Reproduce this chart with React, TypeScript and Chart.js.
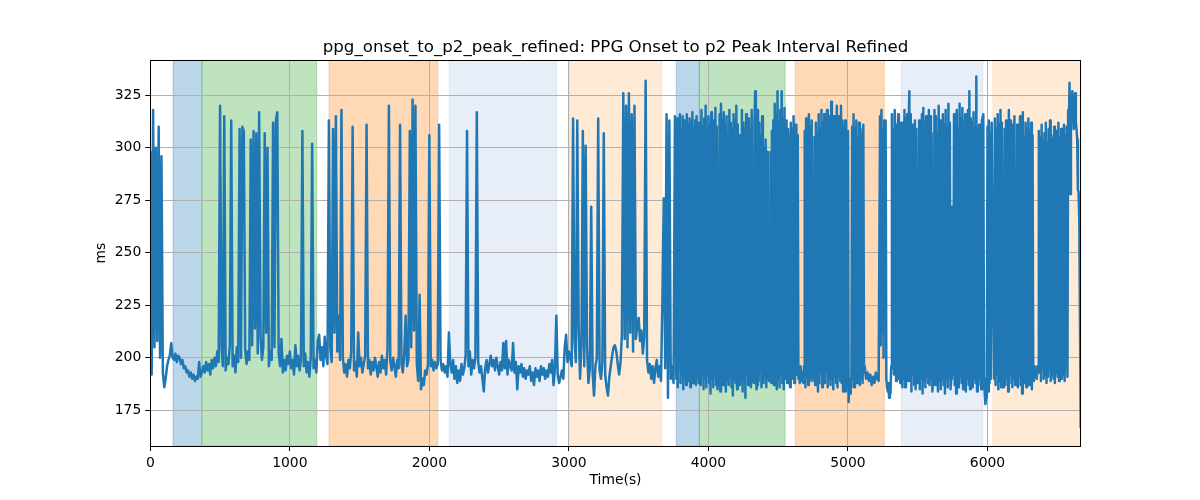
import { useEffect, useRef } from 'react';
import { Chart, registerables } from 'chart.js';

Chart.register(...registerables);

// interval values (ms), one array per stretch of the recording
const vals0000 = [298, 192, 318, 205, 300, 208, 310, 200, 296, 193, 186, 190, 196, 199, 201, 207, 200];
const vals0170 = [199, 202, 198, 201, 200, 197, 199, 195, 196, 193, 194, 191, 193, 190, 192, 189, 191, 190, 198, 191, 193];
const vals0380 = [
  196, 193, 198, 194, 197, 192, 199, 195, 200, 196, 203, 198, 320, 205, 196, 315, 194, 200, 197, 206,
  313, 196, 201, 193, 205, 198, 309, 200, 310, 308, 204, 197, 203, 199, 304, 206, 308, 214, 307, 202,
  317, 210, 199, 205, 307, 212, 300, 196, 203, 199, 312, 205, 313, 317, 202, 196, 209, 193, 199, 194,
  201, 197, 203, 195, 199, 192, 206, 196, 201, 194, 199, 308, 196, 202, 193, 198, 191, 200, 302, 195,
  199, 193,
];
const vals1200 = [208, 211, 199, 205, 196, 210, 201, 197, 313];
const vals1290 = [
  205, 198, 309, 212, 315, 203, 220, 199, 318, 200, 193, 197, 191, 199, 195, 203, 310, 194, 198, 191,
  212, 196, 200, 193, 197, 201, 311, 195, 199, 192, 198, 194, 200, 196, 191, 198, 193, 201, 195, 199,
  192, 204, 320, 198, 194, 200, 196, 191, 199, 195, 311, 197, 193, 202, 220, 196, 199, 308, 205, 323,
  213, 320, 197, 189, 230, 185, 190, 187, 194, 192, 197, 306, 196, 199, 194, 198, 195, 197,
];
const vals2070 = [311, 199, 194, 197, 193, 196, 191, 212];
const vals2150 = [
  197, 193, 199, 190, 196, 188, 194, 189, 197, 192, 195, 201, 308, 196, 203, 192, 199, 195, 200, 317,
  198, 193, 196, 190, 184, 195, 199, 193, 197, 201, 196, 199, 194, 200, 196, 192, 198, 194, 207, 195,
  208, 192, 199, 196, 194, 207, 193, 198, 185, 196, 193, 197, 191, 195, 190, 194, 192, 196, 189, 193,
  187, 195, 191, 194, 189, 196, 192, 195, 190, 194, 191, 197, 193, 199, 187, 195, 220,
];
const vals2920 = [192, 188, 191, 194, 190, 205, 211, 198, 203];
const vals3010 = [
  200, 196, 314, 208, 198, 313, 215, 190, 206, 308, 196, 301, 205, 188, 195, 272, 193, 182, 196, 200,
  314, 194, 190, 198, 307, 192, 186, 182, 191, 196, 201, 205, 206, 203, 197, 192, 198, 211, 326, 209,
  320, 205, 326, 212, 316, 203, 320, 209, 215, 219, 208, 213, 202, 210, 332, 199, 193, 197, 190, 196,
  188, 195, 199, 191, 196, 189,
];
const vals3670 = [227, 276, 195, 316, 181, 313, 190, 196, 188, 315];
// dense stretches, sampled twice as often
const vals3770 = [
  190, 314, 186, 312, 195, 316, 188, 309, 192, 315,
  185, 313, 191, 310, 187, 316, 193, 311, 189, 314,
  186, 312, 190, 317, 188, 309, 194, 313, 187, 315,
  191, 312, 188,
];
const vals3940 = [
  312, 187, 318, 192, 310, 185, 314, 190, 320, 186,
  309, 192, 315, 188, 311, 183, 317, 190, 308, 186,
  313, 191, 319, 187, 310, 185, 190, 188, 316, 184,
  321, 190, 313, 187, 317, 192, 311, 184, 315, 189,
  306, 187, 318, 191, 312, 186, 309, 182, 316, 190,
  313, 188, 320, 185, 311, 191, 306, 187, 193, 190,
  318, 184, 312, 189, 309, 181, 316, 192, 310, 187,
  314, 190, 308, 186, 318, 189, 192, 188, 312, 327,
  190, 185, 187, 318, 189, 312, 193, 306, 186, 315,
  297, 188, 300, 191, 304, 186, 298, 190, 194, 189,
  192, 298, 188, 308, 192, 313, 187, 321, 190, 316,
  185, 327, 190, 312, 186, 318, 192, 327, 188, 314,
  185, 319, 190,
];
const vals4560 = [313, 188, 309, 191, 306, 186, 312, 194, 309, 190, 315, 188, 311];
const vals4630 = [
  311, 192, 306, 190, 194, 188, 196, 191, 189, 193,
  188, 196, 308, 186, 314, 191, 310, 187, 316, 189,
  310, 191, 313, 189, 193, 190, 305, 187, 312, 190,
  307, 184, 316, 188, 309, 193, 318, 186, 312, 190,
  316, 188, 309, 193, 318, 186, 311, 190, 315, 187,
  322, 190, 311, 185, 315, 191, 307, 188, 320, 186,
  315, 191, 307, 189, 320, 188, 313, 184, 310, 187,
  313, 184, 302, 186, 308, 179, 187, 183, 190, 186,
  310, 190, 316, 186, 309, 192, 313, 188, 305, 191,
  312, 187, 309, 190, 306, 188, 311, 193, 196,
];
const vals5130 = [190, 193, 189, 192, 187, 191, 188, 193, 190, 189];
const vals5230 = [315, 206, 318, 212, 308, 200, 313];
const vals5270 = [
  313, 190, 186, 184, 188, 181, 186, 183, 196, 316,
  195, 309, 192, 318, 302, 189, 311, 194, 316, 190,
  305, 188, 312,
];
const vals5390 = [
  186, 312, 190, 318, 186, 314, 192, 316, 189, 311,
  327, 189, 316, 184, 311, 192, 309, 187, 313, 185,
  309, 190, 188, 194, 313, 185, 309, 190, 316, 183,
  319, 189, 312, 186, 315, 191, 310, 188, 318, 187,
  315, 190, 307, 184, 191, 195, 318, 187, 315, 190,
  307, 184, 320, 189, 313, 185, 303, 190, 316, 187,
  311, 183, 318, 190, 309, 186, 321, 191, 312, 185,
  190, 272, 270, 192, 316, 187, 311, 183, 318, 190,
  309, 186, 321, 191, 314, 188, 319, 185, 312, 189,
  316, 184, 310, 190, 318, 187, 327, 185, 314, 189,
  312, 186, 317, 190, 309, 188, 334, 184, 308, 187,
  311, 190, 306, 185, 313,
];
const vals5970 = [316, 190, 183, 178, 181, 186, 310, 184, 313, 188, 307, 190, 312];
const vals6048 = [
  190, 314, 187, 309, 192, 316, 185, 311, 189, 318,
  186, 312, 191, 186, 190, 309, 187, 313, 190, 307,
  184, 318, 188, 313, 192, 307, 186, 311, 190, 315,
  187, 191, 189, 311, 186, 306, 191, 315, 187, 309,
  183, 317, 190, 305, 188, 312, 186, 309, 191, 314,
  187, 308, 190, 312, 185, 306, 189, 192, 196, 191,
  194, 190, 196, 193, 308, 193, 305, 189, 311, 195,
  303, 190, 307, 192, 312, 188, 302, 191, 309, 194,
  313, 189, 306, 192, 304, 190, 310, 188, 303, 193,
  308, 191, 312, 189, 305, 194, 309, 190, 302, 192,
  311, 189, 306, 195, 310, 191, 318, 310, 331, 278,
  322, 315, 327, 318, 309, 320, 326, 312, 309, 304,
  280, 279, 265, 216, 167,
];

// [start time (s), sampling step (s), values]
const SEGMENTS: [number, number, number[]][] = [
  [0, 10, vals0000], [170, 10, vals0170], [380, 10, vals0380], [1200, 10, vals1200], [1290, 10, vals1290],
  [2070, 10, vals2070], [2150, 10, vals2150], [2920, 10, vals2920], [3010, 10, vals3010], [3670, 10, vals3670],
  [3770, 5, vals3770], [3940, 5, vals3940], [4560, 5, vals4560], [4630, 5, vals4630], [5130, 10, vals5130],
  [5230, 5, vals5230], [5270, 5, vals5270], [5390, 5, vals5390], [5970, 5, vals5970], [6048, 5, vals6048],
];

// shaded phases
const SPAN_START = [163, 371, 1281, 2143, 3004, 3769, 3935, 4622, 5382, 6039];
const SPAN_END = [368, 1193, 2060, 2913, 3666, 3935, 4550, 5260, 5967, 6670];
const SPAN_COLOR = [
  'rgba(31,119,180,0.3)', 'rgba(44,160,44,0.3)', 'rgba(255,127,14,0.3)', 'rgba(174,199,232,0.3)', 'rgba(255,187,120,0.3)',
  'rgba(31,119,180,0.3)', 'rgba(44,160,44,0.3)', 'rgba(255,127,14,0.3)', 'rgba(174,199,232,0.3)', 'rgba(255,187,120,0.3)',
];

const X_TICKS = [0, 1000, 2000, 3000, 4000, 5000, 6000];
const Y_TICKS = [175, 200, 225, 250, 275, 300, 325];

const TITLE = 'ppg_onset_to_p2_peak_refined: PPG Onset to p2 Peak Interval Refined';
const FONT = '"DejaVu Sans", sans-serif';

const App = () => {
  const canvasRef = useRef<HTMLCanvasElement | null>(null);
  const chartRef = useRef<Chart | null>(null);

  useEffect(() => {
    document.body.style.margin = '0';
    if (!canvasRef.current) return;
    const ctx = canvasRef.current.getContext('2d');
    if (!ctx) return;
    if (chartRef.current) chartRef.current.destroy();

    const points: { x: number; y: number }[] = [];
    SEGMENTS.forEach(([start, step, vals]) => {
      vals.forEach((v, i) => points.push({ x: start + i * step, y: v }));
    });
    const xMax = points[points.length - 1].x;

    const decor = {
      id: 'decor',
      beforeDraw(chart: Chart) {
        const { ctx: c, chartArea: a, scales } = chart;
        const x = scales.x;
        c.save();
        c.fillStyle = '#fff';
        c.fillRect(0, 0, chart.width, chart.height);
        SPAN_START.forEach((s, i) => {
          const l = Math.max(a.left, x.getPixelForValue(s));
          const r = Math.min(a.right, x.getPixelForValue(SPAN_END[i]));
          c.fillStyle = SPAN_COLOR[i];
          c.fillRect(l, a.top, r - l, a.bottom - a.top);
          c.strokeStyle = SPAN_COLOR[i];
          c.lineWidth = 1;
          c.strokeRect(l, a.top, r - l, a.bottom - a.top);
        });
        c.restore();
      },
      afterDraw(chart: Chart) {
        const { ctx: c, chartArea: a } = chart;
        c.save();
        c.strokeStyle = '#000';
        c.lineWidth = 1;
        c.strokeRect(Math.round(a.left) + 0.5, Math.round(a.top) + 0.5, Math.round(a.right - a.left), Math.round(a.bottom - a.top));
        c.fillStyle = '#000';
        c.font = `16.67px ${FONT}`;
        c.textAlign = 'center';
        c.textBaseline = 'alphabetic';
        c.fillText(TITLE, (a.left + a.right) / 2, 52);
        c.restore();
      },
    };

    chartRef.current = new Chart(ctx, {
      type: 'line',
      data: {
        datasets: [{
          data: points,
          borderColor: '#1f77b4',
          borderWidth: 2.5,
          borderJoinStyle: 'round',
          borderCapStyle: 'square',
          pointRadius: 0,
          tension: 0,
          fill: false,
        }],
      },
      options: {
        responsive: false,
        animation: false,
        layout: { padding: { left: 92.7, right: 119.3, top: 60.3, bottom: 0 } },
        plugins: { legend: { display: false }, tooltip: { enabled: false } },
        scales: {
          x: {
            type: 'linear',
            min: 0,
            max: xMax,
            afterBuildTicks: (axis: any) => { axis.ticks = X_TICKS.map((v) => ({ value: v })); },
            afterFit: (s: any) => { s.height = 54; },
            ticks: { color: '#000', font: { family: FONT, size: 13.9 }, padding: 4, maxRotation: 0, callback: (v: any) => String(v) },
            grid: { color: '#b0b0b0', lineWidth: 1, tickColor: '#000', tickLength: 5 },
            border: { color: '#000', width: 1 },
            title: { display: true, text: 'Time(s)', color: '#000', font: { family: FONT, size: 13.9 }, padding: { top: 0, bottom: 11 } },
          },
          y: {
            type: 'linear',
            min: 158,
            max: 341.7,
            afterBuildTicks: (axis: any) => { axis.ticks = Y_TICKS.map((v) => ({ value: v })); },
            afterFit: (s: any) => { s.width = 57.6; },
            ticks: { color: '#000', font: { family: FONT, size: 13.9 }, padding: 4 },
            grid: { color: '#b0b0b0', lineWidth: 1, tickColor: '#000', tickLength: 5 },
            border: { color: '#000', width: 1 },
            title: { display: true, text: 'ms', color: '#000', font: { family: FONT, size: 13.9 }, padding: { top: 0, bottom: 0 } },
          },
        },
      },
      plugins: [decor],
    });

    return () => {
      if (chartRef.current) {
        chartRef.current.destroy();
        chartRef.current = null;
      }
    };
  }, []);

  return (
    <div style={{ width: 1200, height: 500 }}>
      <canvas ref={canvasRef} width={1200} height={500} style={{ display: 'block' }} />
    </div>
  );
};

export default App;
